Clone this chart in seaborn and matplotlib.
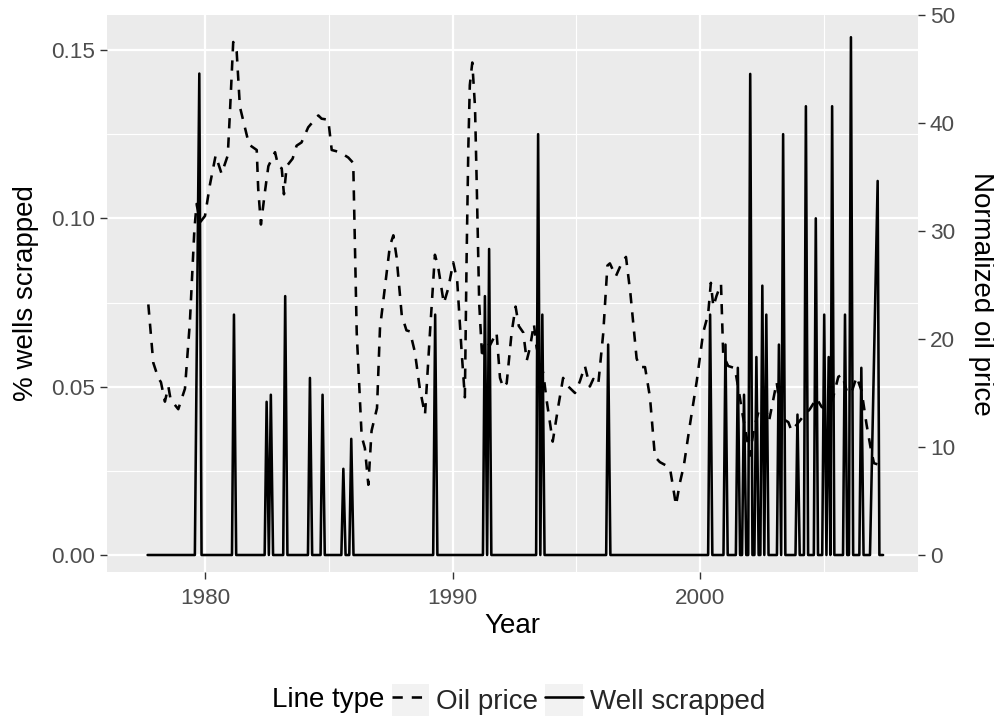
import numpy as np
import pandas as pd
import matplotlib
matplotlib.use("Agg")
import matplotlib.pyplot as plt
import seaborn as sns
from matplotlib.patches import Rectangle
from matplotlib.lines import Line2D
from matplotlib.legend_handler import HandlerTuple

# ---------------- data ----------------
oil_year = [1977.70, 1977.90, 1978.10, 1978.21, 1978.37, 1978.51, 1978.60, 1978.91, 1979.18, 1979.38,
            1979.56, 1979.65, 1979.79, 1979.99, 1980.19, 1980.42, 1980.66, 1980.91, 1981.00, 1981.13,
            1981.27, 1981.40, 1981.60, 1981.77, 1982.08, 1982.14, 1982.25, 1982.41, 1982.55, 1982.82,
            1982.95, 1983.09, 1983.18, 1983.29, 1983.53, 1983.69, 1983.89, 1984.16, 1984.57, 1984.70,
            1984.97, 1985.11, 1985.44, 1985.78, 1985.98, 1986.12, 1986.32, 1986.45, 1986.59, 1986.72,
            1986.94, 1987.06, 1987.26, 1987.46, 1987.60, 1987.73, 1987.94, 1988.13, 1988.27, 1988.47,
            1988.67, 1988.88, 1989.08, 1989.28, 1989.41, 1989.64, 1989.82, 1990.02, 1990.18, 1990.36,
            1990.49, 1990.56, 1990.63, 1990.69, 1990.79, 1990.90, 1990.97, 1991.07, 1991.19, 1991.30,
            1991.50, 1991.77, 1991.91, 1992.04, 1992.18, 1992.38, 1992.54, 1992.67, 1992.85, 1992.99,
            1993.12, 1993.28, 1993.39, 1993.66, 1993.79, 1994.04, 1994.26, 1994.46, 1994.67, 1994.94,
            1995.14, 1995.34, 1995.54, 1995.68, 1995.88, 1996.08, 1996.25, 1996.35, 1996.59, 1996.82,
            1997.00, 1997.18, 1997.43, 1997.56, 1997.77, 1997.97, 1998.17, 1998.37, 1998.61, 1998.78,
            1998.91, 1999.02, 1999.18, 1999.34, 1999.58, 1999.86, 2000.12, 2000.32, 2000.43, 2000.53,
            2000.66, 2000.84, 2000.93, 2001.13, 2001.40, 2001.58, 2001.69, 2002.01, 2002.17, 2002.41,
            2002.61, 2002.78, 2002.95, 2003.09, 2003.22, 2003.35, 2003.56, 2003.69, 2003.91, 2004.15,
            2004.43, 2004.70, 2004.91, 2005.11, 2005.37, 2005.58, 2005.73, 2005.92, 2006.09, 2006.32,
            2006.52, 2006.72, 2006.88, 2007.02, 2007.16]
oil_price = [23.2, 17.8, 16.4, 16.0, 14.2, 15.6, 14.4, 13.5, 15.4, 21.6,
             30.1, 32.5, 30.8, 31.4, 34.3, 37.0, 35.3, 37.0, 41.1, 47.5,
             46.6, 41.5, 39.6, 38.0, 37.5, 33.9, 30.6, 33.6, 36.0, 37.3,
             36.0, 35.8, 33.4, 36.0, 36.7, 37.9, 38.2, 39.6, 40.7, 40.4,
             40.3, 37.5, 37.3, 36.8, 36.3, 20.6, 11.0, 9.9, 6.5, 11.5,
             13.6, 21.0, 24.8, 28.6, 29.6, 27.6, 22.2, 20.8, 20.7, 18.8,
             15.4, 13.0, 20.6, 27.8, 26.7, 23.3, 24.7, 27.1, 25.4, 18.8,
             14.6, 27.4, 37.7, 43.5, 45.6, 41.5, 34.3, 23.3, 18.2, 19.9,
             19.4, 20.6, 16.4, 15.5, 15.9, 20.6, 23.0, 21.2, 20.6, 18.0,
             19.2, 21.4, 19.2, 16.8, 14.4, 10.5, 13.7, 16.4, 15.6, 15.0,
             16.1, 17.5, 15.6, 16.3, 15.8, 20.5, 26.8, 27.0, 25.8, 27.0,
             27.6, 24.2, 18.2, 17.4, 17.4, 14.6, 9.1, 8.6, 8.3, 8.0,
             6.2, 4.6, 6.7, 8.3, 12.0, 16.1, 20.6, 22.3, 25.2, 23.0,
             24.0, 25.1, 18.5, 17.5, 17.3, 14.9, 13.3, 9.2, 11.7, 13.7,
             13.8, 12.4, 14.4, 16.0, 13.7, 12.6, 12.3, 11.5, 12.1, 12.8,
             13.5, 14.5, 13.7, 13.5, 14.6, 16.5, 16.7, 15.2, 14.9, 16.5,
             15.2, 12.1, 10.0, 8.5, 8.4]

well_year = [1977.67, 1979.58, 1979.76, 1979.85, 1981.08, 1981.16, 1981.25, 1982.40, 1982.48, 1982.57,
             1982.65, 1982.74, 1983.15, 1983.23, 1983.32, 1984.15, 1984.23, 1984.32, 1984.66, 1984.74,
             1984.83, 1985.50, 1985.58, 1985.67, 1985.82, 1985.90, 1985.99, 1989.21, 1989.29, 1989.38,
             1991.22, 1991.30, 1991.39, 1991.47, 1991.56, 1993.37, 1993.45, 1993.54, 1993.62, 1993.71,
             1996.20, 1996.28, 1996.37, 2000.32, 2000.40, 2000.49, 2000.94, 2001.02, 2001.11, 2001.44,
             2001.52, 2001.61, 2001.69, 2001.77, 2001.86, 2001.94, 2002.02, 2002.11, 2002.19, 2002.27,
             2002.36, 2002.43, 2002.51, 2002.59, 2002.67, 2002.76, 2003.10, 2003.18, 2003.27, 2003.35,
             2003.44, 2003.85, 2003.93, 2004.02, 2004.19, 2004.27, 2004.36, 2004.59, 2004.67, 2004.76,
             2004.93, 2005.01, 2005.10, 2005.19, 2005.26, 2005.33, 2005.42, 2005.77, 2005.85, 2005.94,
             2006.01, 2006.09, 2006.18, 2006.43, 2006.51, 2006.60, 2006.86, 2007.17, 2007.24, 2007.39]
well_value = [0, 0, 0.1430, 0, 0, 0.0714, 0, 0, 0.0455, 0,
              0.0476, 0, 0, 0.0769, 0, 0, 0.0526, 0, 0, 0.0476,
              0, 0, 0.0256, 0, 0, 0.0345, 0, 0, 0.0714, 0,
              0, 0.0769, 0, 0.0909, 0, 0, 0.1250, 0, 0.0714, 0,
              0, 0.0625, 0, 0, 0.0714, 0, 0, 0.0625, 0, 0,
              0.0556, 0, 0, 0.0476, 0, 0, 0.1429, 0, 0, 0.0588,
              0, 0, 0.0800, 0, 0.0714, 0, 0, 0.0625, 0, 0.1250,
              0, 0, 0.0417, 0, 0, 0.1333, 0, 0, 0.1000, 0,
              0, 0.0714, 0, 0.0588, 0, 0.1333, 0, 0, 0.0714, 0,
              0, 0.1538, 0, 0, 0.0556, 0, 0, 0.1111, 0, 0]

line_types = ["Oil price", "Well scrapped"]
x_ticks = [1980, 1990, 2000]
y_ticks = [0.00, 0.05, 0.10, 0.15]
y_tick_labels = ["0.00", "0.05", "0.10", "0.15"]
oil_ticks = [0, 10, 20, 30, 40, 50]

OIL_SCALE = 0.003208  # oil price units -> % wells axis units (secondary axis transform)

# ---------------- build table ----------------
df = pd.concat([
    pd.DataFrame({"Year": oil_year, "value": np.array(oil_price) * OIL_SCALE, "Line type": line_types[0]}),
    pd.DataFrame({"Year": well_year, "value": well_value, "Line type": line_types[1]}),
], ignore_index=True)

# ---------------- style ----------------
sns.set_theme(style="darkgrid")
plt.rcParams["font.family"] = ["Liberation Sans", "DejaVu Sans"]

GRAY_TXT = "#4D4D4D"
TICK_C = "#333333"
LW = 1.85
DASH = (4, 3.5)
TICK_FS = 16.2
TITLE_FS = 20.0

fig = plt.figure(figsize=(9.95, 7.21), dpi=100)
fig.patch.set_facecolor("white")
ax = fig.add_axes([107 / 995, 1 - 572 / 721, (918 - 107) / 995, (572 - 15) / 721])
ax.set_facecolor("#EBEBEB")

sns.lineplot(data=df, x="Year", y="value", style="Line type", style_order=line_types,
             dashes={"Oil price": DASH, "Well scrapped": ""}, color="black",
             linewidth=LW, estimator=None, sort=False, legend=False, ax=ax)

ax.set_xlim(1976.03, 2008.80)
ax.set_ylim(-0.00505, 0.16040)

ax.set_xticks(x_ticks)
ax.set_xticks([1985, 1995, 2005], minor=True)
ax.set_yticks(y_ticks)
ax.set_yticklabels(y_tick_labels)
ax.set_yticks([0.025, 0.075, 0.125], minor=True)

ax.grid(which="major", color="white", linewidth=1.6)
ax.grid(which="minor", color="white", linewidth=0.8)
ax.set_axisbelow(True)
for s in ax.spines.values():
    s.set_visible(False)

ax.tick_params(which="major", length=4.75, width=1.0, color=TICK_C, pad=3.8,
               labelsize=TICK_FS, labelcolor=GRAY_TXT, bottom=True, left=True)
ax.tick_params(axis="x", which="major", pad=6.5)
ax.tick_params(which="minor", length=0, bottom=False, left=False)

ax.set_xlabel("Year", fontsize=TITLE_FS, color="black", labelpad=3.5)
ax.set_ylabel("% wells scrapped", fontsize=TITLE_FS, color="black", labelpad=9)

sec = ax.secondary_yaxis("right", functions=(lambda v: v / OIL_SCALE, lambda o: o * OIL_SCALE))
sec.set_yticks(oil_ticks)
sec.tick_params(length=4.75, width=1.0, color=TICK_C, pad=3.8, labelsize=TICK_FS, labelcolor=GRAY_TXT)
for s in sec.spines.values():
    s.set_visible(False)
sec.set_ylabel("Normalized oil price", fontsize=TITLE_FS, color="black", rotation=-90,
               va="bottom", labelpad=9)

# ---------------- legend (bottom, horizontal, with grey key boxes) ----------------
key_bg = dict(facecolor="#F2F2F2", edgecolor="none")
handles = [
    (Rectangle((0, 0), 1, 1, **key_bg), Line2D([], [], color="black", lw=LW, dashes=DASH)),
    (Rectangle((0, 0), 1, 1, **key_bg), Line2D([], [], color="black", lw=LW)),
]
fig.legend(handles, line_types, loc="center left", bbox_to_anchor=(392 / 995, 1 - 700 / 721),
           ncol=2, frameon=False, borderpad=0, borderaxespad=0, handlelength=1.35, handleheight=1.35,
           handletextpad=0.25, columnspacing=0.25, fontsize=TITLE_FS,
           handler_map={tuple: HandlerTuple(ndivide=1, pad=0)})
fig.text(384 / 995, 1 - 700 / 721, "Line type", ha="right", va="center", fontsize=TITLE_FS, color="black")

fig.savefig("out.png", dpi=100, facecolor="white")
